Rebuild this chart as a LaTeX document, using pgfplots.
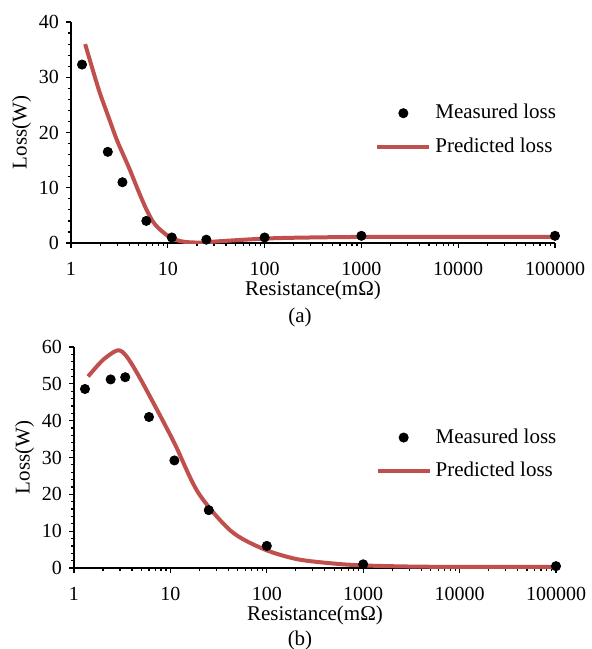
\documentclass[border=0pt]{standalone}
\usepackage{fontspec}
\setmainfont{Liberation Serif}
\usepackage{pgfplots}
\pgfplotsset{compat=1.18}
\definecolor{predred}{HTML}{C0504D}
\pgfplotsset{
  myax/.style={
    scale only axis,
    xmin=1, xmax=100000,
    axis lines=left, axis line style={-, line width=0.8pt},
    tick align=outside, tick style={black, line width=0.6pt},
    major tick length=2.5pt, minor tick length=1.5pt,
    xtick={1,10,100,1000,10000,100000},
    xticklabels={1,10,100,1000,10000,100000},
    minor xtick={2,3,4,5,6,7,8,9,20,30,40,50,60,70,80,90,200,300,400,500,600,700,800,900,2000,3000,4000,5000,6000,7000,8000,9000,20000,30000,40000,50000,60000,70000,80000,90000},
    minor y tick num=4,
    /pgf/number format/assume math mode=true,
    tick label style={font=\fontsize{10}{12}\selectfont},
    xticklabel style={yshift=-3.5pt},
    label style={font=\fontsize{10.5}{12}\selectfont},
    xlabel={Resistance(mΩ)},
    ylabel={Loss(W)},
    xlabel style={yshift=4pt},
    ylabel style={yshift=-3pt},
    legend cell align=left,
    legend image code/.code={\draw[#1] (0pt,0pt) -- (26pt,0pt);},
    legend style={draw=none, fill=none, inner sep=0pt, font=\fontsize{10.5}{12}\selectfont, row sep=4pt},
  },
  measstyle/.style={only marks, mark=*, mark size=2.3pt, black,
    legend image code/.code={\draw[##1] plot coordinates {(13pt,0pt)};}},
}
\begin{document}
\begin{tikzpicture}
\begin{semilogxaxis}[myax, name=a, width=242pt, height=110.5pt, ymin=0, ymax=40, ytick={0,10,20,30,40},
  legend style={at={(0.628,0.647)}, anchor=north west}]
\addplot[measstyle] coordinates {
(1.3,32.3) (2.4,16.5) (3.4,11) (6,4) (11,1) (25,0.6) (100,1) (1000,1.3) (100000,1.3)};
\addlegendentry{Measured loss}
\addplot[predred, line width=2pt, smooth] coordinates {
(1.4,36) (1.7,31) (2,27) (2.5,22.3) (3,18.5) (4,13.5) (5,9.3) (6,6.1) (7,3.9) (8,2.7) (10,1.3) (12,0.6) (15,0.2) (20,0.08) (25,0.12) (30,0.25) (50,0.5) (100,0.8) (200,0.95) (1000,1.1) (10000,1.1) (100000,1.1)};
\addlegendentry{Predicted loss}
\end{semilogxaxis}
\node[font=\fontsize{10.5}{12}\selectfont] at (114.5pt,-37pt) {(a)};
\begin{semilogxaxis}[myax, name=b, at={(1.5pt,-162.5pt)}, width=241pt, height=110.5pt, ymin=0, ymax=60, ytick={0,10,20,30,40,50,60},
  legend style={at={(0.625,0.65)}, anchor=north west}]
\addplot[measstyle] coordinates {
(1.3,48.6) (2.4,51.2) (3.4,51.8) (6,41) (11,29.2) (25,15.7) (100,6) (1000,1) (100000,0.5)};
\addlegendentry{Measured loss}
\addplot[predred, line width=2pt, smooth] coordinates {
(1.4,52) (2,56.5) (2.84,59.1) (3.5,57.5) (4.73,52) (7.6,42) (11.2,33.5) (19.5,20.4) (42.7,10) (93.6,5.1) (206,2.4) (500,1.2) (1000,0.7) (3000,0.4) (10000,0.3) (100000,0.3)};
\addlegendentry{Predicted loss}
\end{semilogxaxis}
\node[font=\fontsize{10.5}{12}\selectfont] at (114.5pt,-198.5pt) {(b)};
\pgfresetboundingbox
\useasboundingbox (-35.5pt,-203pt) rectangle (260.5pt,121.5pt);
\end{tikzpicture}
\end{document}
